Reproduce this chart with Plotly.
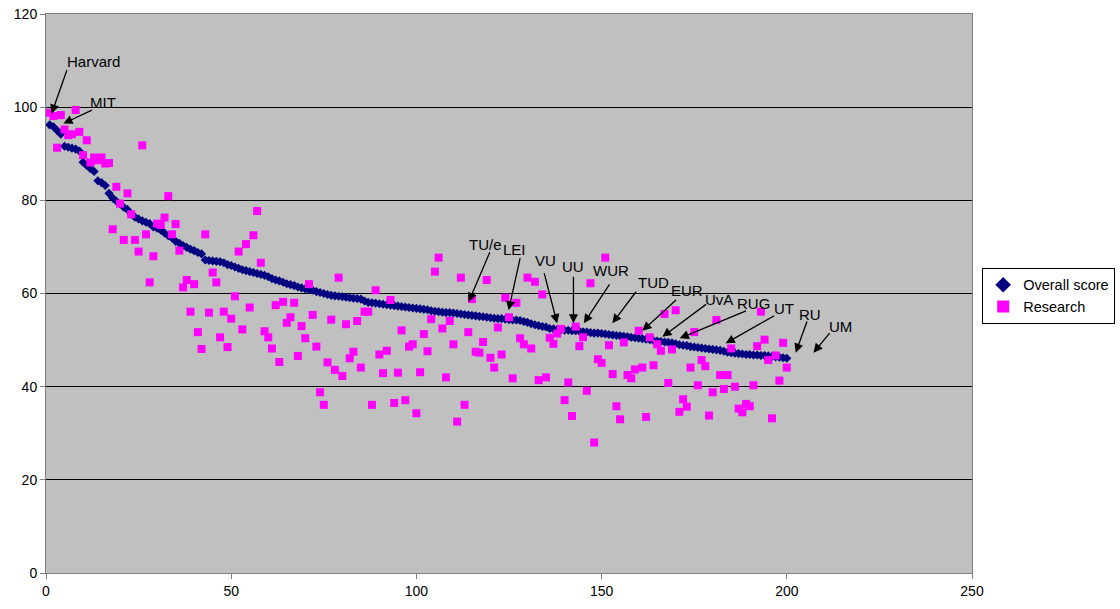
import plotly.graph_objects as go

# ---------------- data ----------------
ranks = list(range(1, 201))

overall_score = [
    96.2, 95.8, 95.0, 94.2, 91.6, 91.4, 91.2, 91.0, 90.6, 88.2,
    87.5, 86.8, 86.2, 84.2, 83.8, 83.2, 81.5, 80.5, 79.8, 79.2,
    78.5, 78.0, 77.0, 76.4, 76.0, 75.6, 75.3, 75.0, 74.3, 74.0,
    73.6, 73.0, 72.4, 71.9, 71.2, 70.8, 70.3, 69.9, 69.5, 69.2,
    68.8, 68.5, 67.2, 67.1, 67.0, 66.9, 66.8, 66.6, 66.2, 66.0,
    65.7, 65.4, 65.1, 64.9, 64.7, 64.5, 64.3, 64.1, 63.9, 63.6,
    63.2, 62.9, 62.7, 62.4, 62.1, 61.9, 61.7, 61.4, 61.2, 61.0,
    60.8, 60.7, 60.4, 60.2, 60.0, 59.8, 59.6, 59.5, 59.4, 59.3,
    59.2, 59.1, 59.0, 58.9, 58.8, 58.4, 58.1, 58.0, 57.9, 57.8,
    57.7, 57.6, 57.5, 57.4, 57.3, 57.2, 57.1, 57.0, 56.9, 56.8,
    56.7, 56.6, 56.5, 56.3, 56.2, 56.1, 56.0, 55.9, 55.9, 55.8,
    55.7, 55.6, 55.5, 55.4, 55.3, 55.2, 55.1, 55.0, 54.9, 54.8,
    54.7, 54.6, 54.6, 54.5, 54.4, 54.3, 54.3, 54.2, 54.0, 53.8,
    53.5, 53.3, 53.1, 52.9, 52.8, 52.5, 52.4, 52.3, 52.2, 52.1,
    52.1, 52.0, 52.0, 51.9, 51.8, 51.7, 51.6, 51.5, 51.5, 51.4,
    51.3, 51.2, 51.1, 51.0, 50.9, 50.8, 50.7, 50.6, 50.5, 50.4,
    50.3, 50.2, 50.1, 49.9, 49.8, 49.7, 49.6, 49.5, 49.4, 49.2,
    49.0, 48.9, 48.8, 48.6, 48.5, 48.4, 48.3, 48.2, 48.1, 48.0,
    47.9, 47.8, 47.6, 47.4, 47.3, 47.2, 47.1, 47.0, 46.9, 46.9,
    46.8, 46.8, 46.7, 46.7, 46.6, 46.5, 46.4, 46.3, 46.2, 46.1,
]

research = [
    98.8, 98.1, 91.3, 98.3, 95.2, 94.0, 94.2, 99.4, 94.7, 89.7,
    92.9, 88.1, 89.2, 88.6, 89.2, 87.9, 88.0, 73.8, 82.9, 79.3,
    71.5, 81.5, 77.0, 71.5, 69.0, 91.8, 72.7, 62.4, 68.0, 75.0,
    74.7, 76.3, 80.9, 72.7, 74.9, 69.2, 61.3, 62.9, 56.1, 62.0,
    51.7, 48.1, 72.7, 55.9, 64.5, 62.4, 50.6, 56.1, 48.5, 54.6,
    59.4, 69.0, 52.3, 70.6, 57.0, 72.5, 77.7, 66.6, 51.9, 50.6,
    48.2, 57.5, 45.3, 58.2, 53.7, 54.9, 58.0, 46.6, 53.0, 50.4,
    62.0, 55.4, 48.6, 38.8, 36.1, 45.2, 54.4, 43.6, 63.4, 42.3,
    53.4, 46.1, 47.5, 54.1, 44.1, 56.1, 56.1, 36.1, 60.7, 46.9,
    42.9, 47.7, 58.6, 36.5, 43.0, 52.1, 37.1, 48.6, 49.1, 34.3,
    43.1, 51.3, 47.6, 54.5, 64.7, 67.7, 52.5, 42.0, 54.1, 49.1,
    32.5, 63.4, 36.1, 51.7, 58.8, 47.5, 47.3, 49.6, 62.9, 46.2,
    44.1, 52.7, 46.9, 59.1, 54.9, 41.8, 58.0, 50.4, 49.1, 63.4,
    48.2, 62.5, 41.4, 59.8, 42.0, 50.5, 49.2, 51.4, 52.4, 37.1,
    40.9, 33.7, 52.9, 48.7, 50.6, 39.1, 62.2, 28.0, 45.9, 45.1,
    67.7, 48.9, 42.7, 35.8, 33.0, 49.5, 42.5, 41.8, 43.7, 52.0,
    44.1, 33.5, 50.6, 44.6, 49.1, 47.7, 55.6, 40.8, 48.0, 56.4,
    34.6, 37.3, 35.7, 44.1, 51.7, 40.3, 45.7, 44.4, 33.8, 38.8,
    54.3, 42.5, 39.5, 42.5, 48.2, 40.0, 35.3, 34.5, 36.3, 35.8,
    40.3, 48.7, 56.1, 50.1, 45.7, 33.2, 46.7, 41.3, 49.4, 44.1,
]

series_names = ["Overall score", "Research"]
label_names = ["Harvard", "MIT", "TU/e", "LEI", "VU", "UU", "WUR",
               "TUD", "EUR", "UvA", "RUG", "UT", "RU", "UM"]
x_ticks = [0, 50, 100, 150, 200, 250]
y_ticks = [0, 20, 40, 60, 80, 100, 120]

# ---------------- annotation geometry (data coords) ----------------
label_text_pos = [(12.8, 109.9), (15.4, 101.1), (118.6, 70.6), (126.6, 69.5),
                  (134.9, 67.1), (142.4, 65.8), (152.5, 64.9), (163.9, 62.3),
                  (173.0, 60.6), (181.7, 58.7), (191.1, 57.9), (199.3, 56.8),
                  (206.3, 55.5), (214.6, 53.0)]
arrow_tail = [(5.8, 108.3), (12.8, 99.5), (120.0, 69.2), (128.1, 67.9),
              (134.4, 64.7), (142.4, 63.9), (152.4, 62.3), (159.6, 60.7),
              (170.5, 58.9), (178.6, 57.9), (189.4, 56.4), (197.0, 55.4),
              (205.6, 54.3), (211.9, 51.8)]
arrow_head = [(1.5, 98.6), (4.7, 96.5), (114.1, 58.2), (124.9, 56.4),
              (138.0, 53.6), (142.4, 53.6), (145.2, 53.6), (152.9, 53.6),
              (161.0, 52.0), (166.4, 50.7), (171.1, 50.4), (183.5, 49.3),
              (202.4, 47.3), (207.2, 47.3)]

FONT = "Liberation Sans, Arial, sans-serif"

fig = go.Figure()
fig.add_trace(go.Scatter(
    x=ranks, y=overall_score, mode="markers", name=series_names[0],
    marker=dict(symbol="diamond", size=7, color="#000080",
                line=dict(width=0)),
))
fig.add_trace(go.Scatter(
    x=ranks, y=research, mode="markers", name=series_names[1],
    marker=dict(symbol="square", size=8, color="#FF00FF",
                line=dict(width=0)),
))

annotations = []
for name, (tx, ty), (ax, ay), (hx, hy) in zip(label_names, label_text_pos,
                                               arrow_tail, arrow_head):
    annotations.append(dict(
        x=hx, y=hy, ax=ax, ay=ay, xref="x", yref="y", axref="x", ayref="y",
        text="", showarrow=True, arrowhead=2, arrowsize=1.4, arrowwidth=1.3,
        arrowcolor="black", standoff=0, startstandoff=0,
    ))
    annotations.append(dict(
        x=tx, y=ty, xref="x", yref="y", text=name, showarrow=False,
        font=dict(family=FONT, size=15, color="black"),
        xanchor="center", yanchor="middle",
    ))

fig.update_layout(
    width=1120, height=609,
    margin=dict(l=46, r=148, t=14, b=36, autoexpand=False),
    paper_bgcolor="white",
    plot_bgcolor="#C0C0C0",
    font=dict(family=FONT, size=14, color="black"),
    showlegend=True,
    legend=dict(
        x=1.011, y=0.546, xanchor="left", yanchor="top",
        bgcolor="white", bordercolor="black", borderwidth=1,
        font=dict(family=FONT, size=14.5, color="black"),
        tracegroupgap=0, itemsizing="constant", itemwidth=30,
    ),
    annotations=annotations,
)
fig.update_xaxes(
    range=[0, 250], tickvals=x_ticks, ticktext=[str(v) for v in x_ticks],
    showgrid=False, zeroline=False,
    showline=True, linecolor="#808080", linewidth=1, mirror=True,
    ticks="outside", ticklen=5, tickcolor="#808080",
    tickfont=dict(family=FONT, size=14, color="black"),
)
fig.update_yaxes(
    range=[0, 120], tickvals=y_ticks, ticktext=[str(v) for v in y_ticks],
    showgrid=True, gridcolor="black", gridwidth=1, zeroline=False,
    showline=True, linecolor="#808080", linewidth=1, mirror=True,
    ticks="outside", ticklen=5, tickcolor="#808080",
    tickfont=dict(family=FONT, size=14, color="black"),
)

fig.write_html("out.html")
